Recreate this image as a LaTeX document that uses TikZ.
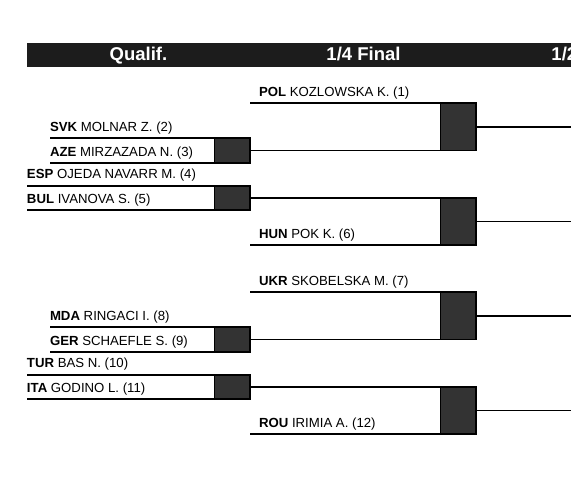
\documentclass[tikz,border=0pt]{standalone}
\usepackage{fontspec}
\setmainfont{Liberation Sans}
\usepackage{tikz}
\usetikzlibrary{positioning}
\definecolor{barBlack}{HTML}{1C1C1C}
\definecolor{boxGray}{HTML}{333333}

\begin{document}
\begin{tikzpicture}[x=1pt, y=-1pt, line width=1.7pt,
    font=\fontsize{13.2}{15}\selectfont,
    namelbl/.style={anchor=base west, inner sep=0pt, outer sep=0pt},
    hdrlbl/.style={anchor=base, inner sep=0pt, text=white,
                   font=\fontsize{18.5}{20}\selectfont\bfseries},
    winbox/.style={draw, fill=boxGray, line width=1.9pt, minimum width=35.5pt,
                   minimum height=#1, inner sep=0pt, outer sep=0pt, anchor=north east}]
  \useasboundingbox (0,0) rectangle (571,485);
  \clip (0,0) rectangle (571,485);
  \fill[white] (0,0) rectangle (571,485);
  % round header
  \fill[barBlack] (27,43) rectangle (571,67);
  \node[hdrlbl] (hqual) at (138.5,60) {Qualif.};
  \node[hdrlbl] (hquarter) at (363.5,60) {1/4 Final};
  \node[hdrlbl] (hsemi) at (588.5,60) {1/2 Final};
  \coordinate (rim) at (571,0);
  % two halves of the draw
  \foreach \h/\o/\ta/\tb/\tc/\td/\te/\tf in {
      1/0/{\textbf{POL} KOZLOWSKA K. (1)}/{\textbf{SVK} MOLNAR Z. (2)}/{\textbf{AZE} MIRZAZADA N. (3)}/{\textbf{ESP} OJEDA NAVARR M. (4)}/{\textbf{BUL} IVANOVA S. (5)}/{\textbf{HUN} POK K. (6)},
      2/189/{\textbf{UKR} SKOBELSKA M. (7)}/{\textbf{MDA} RINGACI I. (8)}/{\textbf{GER} SCHAEFLE S. (9)}/{\textbf{TUR} BAS N. (10)}/{\textbf{ITA} GODINO L. (11)}/{\textbf{ROU} IRIMIA A. (12)}}{
    \begin{scope}[yshift=-\o pt]
      \node[winbox=47.5pt] (qf\h a) at (476,103) {};
      \node[winbox=25pt] (qb\h a) at (250,138) {};
      \node[winbox=24pt] (qb\h b) at (250,186) {};
      \node[winbox=47pt] (qf\h b) at (476,198) {};
      \node[namelbl] (na\h) at (259,96.5) {\ta};
      \node[namelbl] (nb\h) at (50,131.5) {\tb};
      \node[namelbl] (nc\h) at (50,156.5) {\tc};
      \node[namelbl] (nd\h) at (27,178.5) {\td};
      \node[namelbl] (ne\h) at (27,203.5) {\te};
      \node[namelbl] (nf\h) at (259,238.3) {\tf};
      % qualification lines
      \draw (qb\h a.north east -| nb\h.west) -- (qb\h a.north east);
      \draw (qb\h a.south east -| nc\h.west) -- (qb\h a.south east);
      \draw (qb\h b.north east -| nd\h.west) -- (qb\h b.north east);
      \draw (qb\h b.south east -| ne\h.west) -- (qb\h b.south east);
      % quarter-final lines
      \draw (qb\h a.east |- qf\h a.north) -- (qf\h a.north east);
      \draw (qb\h a.east) -- (qb\h a.east -| qf\h a.east);
      \draw (qb\h b.east) -- (qb\h b.east -| qf\h b.east);
      \draw (qb\h b.east |- qf\h b.south) -- (qf\h b.south east);
      \draw (qf\h a.east) -- (qf\h a.east -| rim);
      \draw (qf\h b.east) -- (qf\h b.east -| rim);
    \end{scope}
  }
\end{tikzpicture}
\end{document}
